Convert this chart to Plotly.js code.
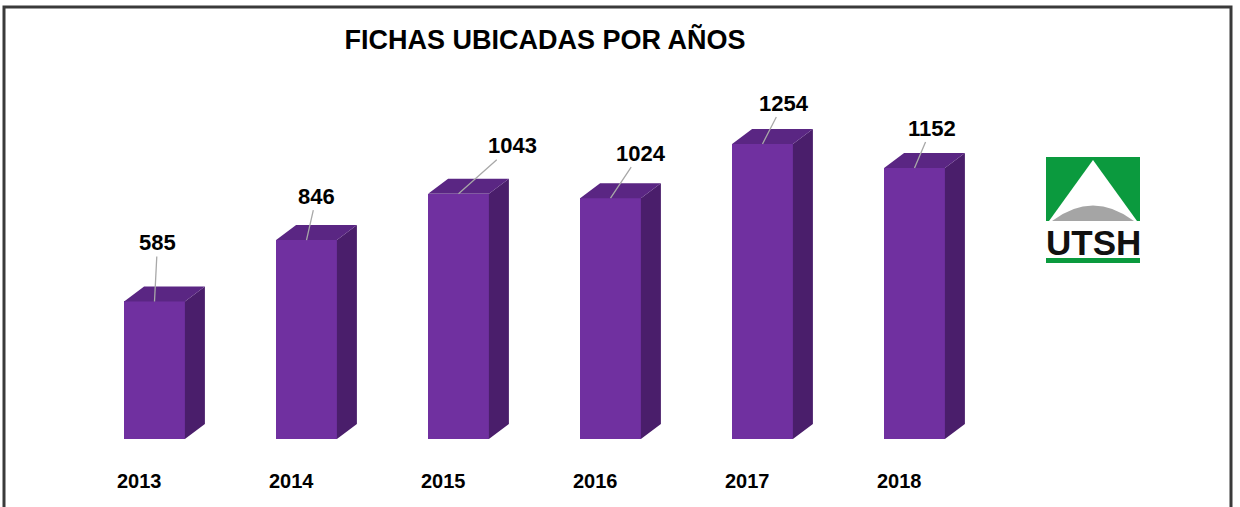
<!DOCTYPE html>
<html>
<head>
<meta charset="utf-8">
<script src="https://cdn.plot.ly/plotly-3.0.1.min.js"></script>
<style>
html,body{margin:0;padding:0;background:#fff;}
#chart{width:1240px;height:507px;}
</style>
</head>
<body>
<div id="chart"></div>
<script>
// ---- data ----
const years = ['2013', '2014', '2015', '2016', '2017', '2018'];
const values = [585, 846, 1043, 1024, 1254, 1152];
// label offsets (px) of each value label from its bar top
const labelDX = [3, 10, 54, 30, 21, 17];
const labelDY = [-59, -44, -48, -45, -41, -40];

const W = 1240, H = 507;
const FONT = '"Liberation Sans", Arial, sans-serif';
const FRONT = '#7030A0', TOP = '#5A2683', SIDE = '#4A1E6B';

const xs = years.map((_, i) => i);
const barW = 0.4;
const depthX = 0.1316;   // 3D depth along x (category units)
const depthY = 63.8;     // 3D depth along y (value units)

// top faces and side faces computed from the data
const topX = [], topY = [], sideX = [], sideY = [];
xs.forEach((x, i) => {
  const v = values[i];
  const l = x - barW / 2, r = x + barW / 2;
  topX.push(l, r, r + depthX, l + depthX, l, null);
  topY.push(v, v, v + depthY, v + depthY, v, null);
  sideX.push(r, r + depthX, r + depthX, r, r, null);
  sideY.push(0, depthY, v + depthY, v, 0, null);
});

const traces = [
  {type: 'scatter', x: sideX, y: sideY, mode: 'lines', fill: 'toself',
   fillcolor: SIDE, line: {width: 0, color: SIDE}, hoverinfo: 'skip', showlegend: false},
  {type: 'scatter', x: topX, y: topY, mode: 'lines', fill: 'toself',
   fillcolor: TOP, line: {width: 0, color: TOP}, hoverinfo: 'skip', showlegend: false},
  {type: 'bar', x: xs, y: values, width: barW, marker: {color: FRONT, line: {width: 0}},
   showlegend: false, hoverinfo: 'x+y'}
];

const px = p => p / W;
const py = p => 1 - p / H;

const annotations = [];
xs.forEach((x, i) => {
  annotations.push({
    x: x, y: values[i], xref: 'x', yref: 'y',
    text: String(values[i]), showarrow: true, arrowhead: 0, arrowwidth: 1.3,
    arrowcolor: '#A8A8A8', ax: labelDX[i], ay: labelDY[i], standoff: 0,
    font: {family: FONT, size: 22, color: '#000', weight: 'bold'}
  });
  annotations.push({
    x: x - 0.1, y: py(481), xref: 'x', yref: 'paper', yanchor: 'middle',
    text: years[i], showarrow: false,
    font: {family: FONT, size: 20, color: '#000', weight: 'bold'}
  });
});
// logo text
annotations.push({
  x: px(1093), y: py(242), xref: 'paper', yref: 'paper', xanchor: 'center', yanchor: 'middle',
  text: 'UTSH', showarrow: false,
  font: {family: FONT, size: 35, color: '#111', weight: 'bold'}
});

const shapes = [
  // outer frame
  {type: 'rect', xref: 'paper', yref: 'paper', x0: px(4), x1: px(1231), y0: py(540), y1: py(7),
   line: {color: '#3a3a3a', width: 3}, fillcolor: 'rgba(0,0,0,0)', layer: 'below'},
  // logo: green square
  {type: 'rect', xref: 'paper', yref: 'paper', x0: px(1046), x1: px(1140), y0: py(221), y1: py(157),
   line: {width: 0}, fillcolor: '#0B9A3E'},
  // white triangle
  {type: 'path', xref: 'paper', yref: 'paper',
   path: `M ${px(1093)} ${py(160)} L ${px(1049)} ${py(221)} L ${px(1137)} ${py(221)} Z`,
   line: {width: 0}, fillcolor: '#ffffff'},
  // gray arc
  {type: 'path', xref: 'paper', yref: 'paper',
   path: `M ${px(1052)} ${py(221)} Q ${px(1093)} ${py(190)} ${px(1134)} ${py(221)} Z`,
   line: {width: 0}, fillcolor: '#A5A5A5'},
  // green underline
  {type: 'rect', xref: 'paper', yref: 'paper', x0: px(1046), x1: px(1140), y0: py(263), y1: py(258),
   line: {width: 0}, fillcolor: '#0B9A3E'}
];

const layout = {
  width: W, height: H,
  margin: {l: 0, r: 0, t: 0, b: 0, pad: 0},
  paper_bgcolor: '#ffffff', plot_bgcolor: 'rgba(0,0,0,0)',
  title: {text: 'FICHAS UBICADAS POR AÑOS', xref: 'paper', yref: 'paper',
          x: px(545), xanchor: 'center', y: py(40), yanchor: 'middle',
          font: {family: FONT, size: 27, color: '#000', weight: 'bold'}},
  xaxis: {range: [-154.5 / 152, (W - 154.5) / 152], visible: false, fixedrange: true},
  yaxis: {range: [-68 / 0.2352, 439 / 0.2352], visible: false, fixedrange: true},
  showlegend: false,
  annotations: annotations,
  shapes: shapes,
  bargap: 0
};

Plotly.newPlot('chart', traces, layout, {displayModeBar: false, staticPlot: true});
</script>
</body>
</html>
